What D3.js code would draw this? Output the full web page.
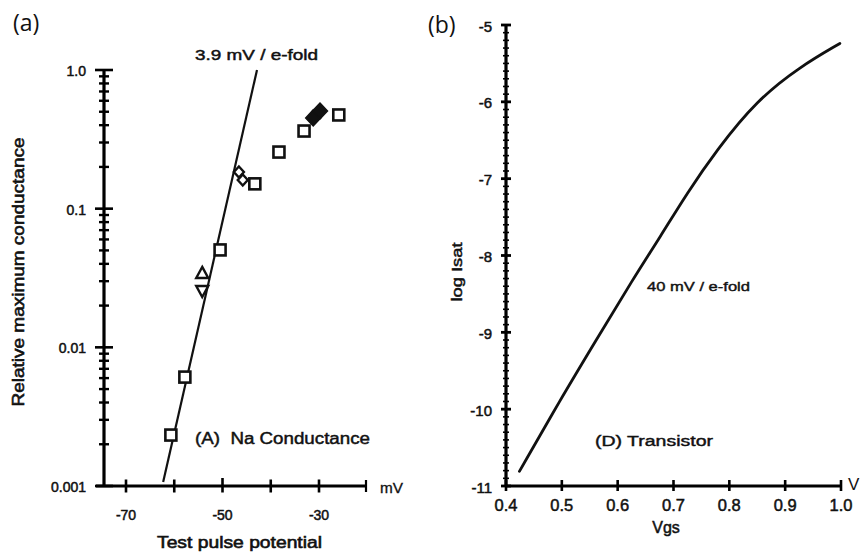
<!DOCTYPE html>
<html><head><meta charset="utf-8">
<script src="https://cdn.jsdelivr.net/npm/d3@7"></script>
<style>
html,body{margin:0;padding:0;background:#fff;}
svg{display:block;}
</style></head>
<body>
<svg id="c" width="861" height="554"></svg>
<script>
// ---------- Panel (a) data: Na conductance ----------
const aSquares = [[-60.7,0.00233],[-57.8,0.0061],[-50.5,0.0504],[-43.3,0.151],[-38.3,0.256],[-33.1,0.363],[-25.9,0.474]];
const aOpenDiamonds = [[-46.6,0.184],[-45.8,0.161]];
const aFilledDiamonds = [[-31.2,0.451],[-29.8,0.506]];
const aUpTriangles = [[-54.2,0.0344]];
const aDownTriangles = [[-54.2,0.0255]];
const aFitLine = [[-62.3,0.00107],[-42.85,1.0]];
const aXTicks = [-70,-60,-50,-40,-30];
const aXTickLabels = [-70,-50,-30];
const aYTicks = [0.001,0.01,0.1,1.0];
const aYTickLabels = ["0.001","0.01","0.1","1.0"];

// ---------- Panel (b) data: transistor ----------
const bVgs  = [0.424,0.497,0.56,0.628,0.676,0.724,0.777,0.849,0.927,0.998];
const bLogI = [-10.81,-9.88,-9.12,-8.30,-7.76,-7.19,-6.63,-5.98,-5.54,-5.24];
const bXTicks = [0.4,0.5,0.6,0.7,0.8,0.9,1.0];
const bYTicks = [-11,-10,-9,-8,-7,-6,-5];

const svg = d3.select("#c");
const INK = "#000";
const FONT = "Liberation Sans, Arial, sans-serif";

function bar(g, x1, y1, x2, y2, w) {
  g.append("path").attr("d", `M${x1},${y1}L${x2},${y2}`)
    .style("fill","none").style("stroke", INK).style("stroke-width", w + "px")
    .style("opacity", 1).style("vector-effect","none");
}
function label(g, txt, x, y, size, opts) {
  opts = opts || {};
  const t = g.append("text").attr("x", x).attr("y", y).text(txt)
    .attr("font-family", opts.family || FONT).attr("font-size", size)
    .attr("fill", "#111").attr("dominant-baseline", "central")
    .attr("text-anchor", opts.anchor || "start");
  if (opts.bold !== false) t.attr("stroke", "#111").attr("stroke-width", opts.sw || 0.5);
  if (opts.len) t.attr("textLength", opts.len).attr("lengthAdjust", "spacingAndGlyphs");
  if (opts.rot) t.attr("transform", `rotate(${opts.rot},${x},${y})`);
  return t;
}

// ================= Panel (a) =================
const ax = d3.scaleLinear().domain([-74.56,-20.26]).range([104,366]);
const ay = d3.scaleLog().domain([0.001,1]).range([486,70]);
const ga = svg.append("g");
const ax0 = ax(-74.56), ay0 = ay(0.001);

// fit line and markers first, axes drawn on top afterwards
ga.append("path").datum(aFitLine)
  .attr("d",d3.line().x(d=>ax(d[0])).y(d=>ay(d[1])))
  .attr("stroke","#111").attr("stroke-width",2.2).attr("fill","none");
const sq = 11;
ga.selectAll("rect.sq").data(aSquares).enter().append("rect").attr("class","sq")
  .attr("x",d=>ax(d[0])-sq/2).attr("y",d=>ay(d[1])-sq/2).attr("width",sq).attr("height",sq)
  .attr("fill","#fff").attr("stroke","#111").attr("stroke-width",2.6);
ga.selectAll("path.od").data(aOpenDiamonds).enter().append("path").attr("class","od")
  .attr("transform",d=>`translate(${ax(d[0])},${ay(d[1])})`)
  .attr("d","M0,-5.5L5,0L0,5.5L-5,0Z").attr("fill","#fff").attr("stroke","#111").attr("stroke-width",2.4);
ga.selectAll("path.fd").data(aFilledDiamonds).enter().append("path").attr("class","fd")
  .attr("transform",d=>`translate(${ax(d[0])},${ay(d[1])})`)
  .attr("d","M0,-8L7.5,0L0,8L-7.5,0Z").attr("fill","#111").attr("stroke","#111").attr("stroke-width",1.5);
ga.selectAll("path.ut").data(aUpTriangles).enter().append("path").attr("class","ut")
  .attr("transform",d=>`translate(${ax(d[0])},${ay(d[1])})`)
  .attr("d","M0,-6L6,5L-6,5Z").attr("fill","#fff").attr("stroke","#111").attr("stroke-width",2.4);
ga.selectAll("path.dt").data(aDownTriangles).enter().append("path").attr("class","dt")
  .attr("transform",d=>`translate(${ax(d[0])},${ay(d[1])})`)
  .attr("d","M0,6L6,-5L-6,-5Z").attr("fill","#fff").attr("stroke","#111").attr("stroke-width",2.4);

// y axis
bar(ga, ax0, ay(1), ax0, ay0, 3.2);
const aMinor = [];
[0.001,0.01,0.1].forEach(d=>{for(let k=2;k<=9;k++) aMinor.push(d*k);});
aMinor.forEach(d=>bar(ga, ax0-5, ay(d), ax0+5, ay(d), 2.4));
aYTicks.forEach(d=>bar(ga, ax0-9, ay(d), ax0+9, ay(d), 2.6));
aYTicks.forEach((d,i)=>label(ga, aYTickLabels[i], 86, ay(d)+1, 14, {anchor:"end"}));

// x axis
bar(ga, 96, ay0, ax(-20.26), ay0, 3.2);
aXTicks.forEach(d=>bar(ga, ax(d), ay0-(d===-50?8:6.5), ax(d), ay0+6.5, 2.6));
bar(ga, ax(-20.26), ay0-6, ax(-20.26), ay0+6, 2.2);
aXTickLabels.forEach(d=>label(ga, "-"+Math.abs(d), ax(d), 515, 14, {anchor:"middle"}));
label(ga, "mV", 380, 488, 14, {len:23, sw:0.3});

label(ga, "Relative maximum conductance", 18, 272, 17, {anchor:"middle", rot:-90, len:269, sw:0.6});
label(ga, "Test pulse potential", 157, 542, 16.5, {len:165, sw:0.6});
label(ga, "3.9 mV / e-fold", 195, 55, 14.5, {len:123, sw:0.45});
label(ga, "(A)\u00a0\u00a0Na Conductance", 195, 438, 16, {len:175, sw:0.45});
label(ga, "(a)", 13, 22, 23, {family:"Open Sans, sans-serif", bold:false});

// ================= Panel (b) =================
const bx = d3.scaleLinear().domain([0.4,1.0]).range([506,841]);
const by = d3.scaleLinear().domain([-11,-5]).range([486,25]);
const gb = svg.append("g");
const bx0 = bx(0.4), by0 = by(-11);

const bData = bVgs.map((v,i)=>[v,bLogI[i]]);
gb.append("path").datum(bData)
  .attr("d",d3.line().x(d=>bx(d[0])).y(d=>by(d[1])).curve(d3.curveBasis))
  .attr("stroke","#111").attr("stroke-width",2.8).attr("fill","none").attr("stroke-linecap","round");

bar(gb, bx0, by(-5), bx0, by0, 3.2);
const bMinor = d3.range(-110,-50).map(d=>d/10).filter(d=>Math.abs(d-Math.round(d))>1e-6);
bMinor.forEach(d=>bar(gb, bx0-3, by(d), bx0+3, by(d), 1.6));
bYTicks.forEach(d=>bar(gb, bx0-5, by(d), bx0+5, by(d), 2.8));
bYTicks.forEach(d=>label(gb, "-"+Math.abs(d), 492, by(d)+1, 15, {anchor:"end"}));

bar(gb, bx0, by0, bx(1.0), by0, 3.2);
bXTicks.forEach(d=>bar(gb, bx(d), by0-6, bx(d), by0+5, 2.6));
bXTicks.forEach(d=>label(gb, d.toFixed(1), bx(d), 505, 16.5, {anchor:"middle"}));
label(gb, "V", 848, 484, 17, {bold:false});

label(gb, "log Isat", 456, 272, 15, {anchor:"middle", rot:-90, len:59});
label(gb, "Vgs", 666, 527, 16, {anchor:"middle"});
label(gb, "40 mV / e-fold", 647, 286, 13, {len:103, sw:0.4});
label(gb, "(D) Transistor", 595, 440, 15.5, {len:118, sw:0.45});
label(gb, "(b)", 428, 24, 23, {family:"Open Sans, sans-serif", bold:false});
</script>
</body></html>
